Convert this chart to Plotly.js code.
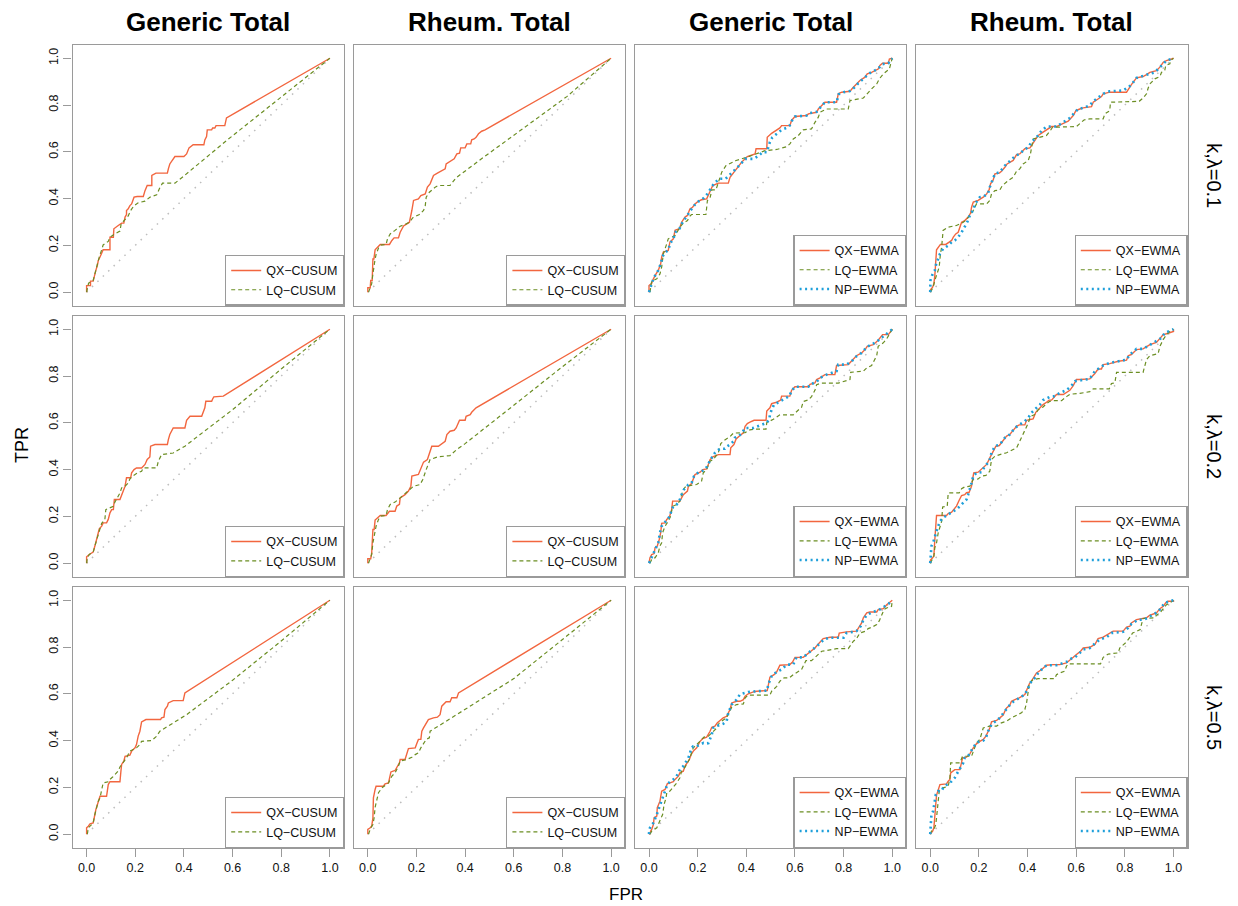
<!DOCTYPE html>
<html>
<head>
<meta charset="utf-8">
<script src="https://cdn.plot.ly/plotly-3.0.1.min.js"></script>
<style>html,body{margin:0;padding:0;background:#fff;}#chart{width:1238px;height:906px;}</style>
</head>
<body>
<div id="chart"></div>
<script>
// ---------- labels ----------
const colTitles = ['Generic Total', 'Rheum. Total', 'Generic Total', 'Rheum. Total'];
const rowLabels = ['k,λ=0.1', 'k,λ=0.2', 'k,λ=0.5'];
const tickVals = [0, 0.2, 0.4, 0.6, 0.8, 1.0];
const tickLabels = ['0.0', '0.2', '0.4', '0.6', '0.8', '1.0'];
const cusumNames = ['QX−CUSUM', 'LQ−CUSUM'];
const ewmaNames = ['QX−EWMA', 'LQ−EWMA', 'NP−EWMA'];
const xLabel = 'FPR';
const yLabel = 'TPR';
const diagonal = [[0, 0], [1, 1]];

// ---------- data: [FPR, TPR] points ----------
// k,λ = 0.1
const cusum_gen_k01_qx = [[0,0],[0,.028],[.016,.028],[.016,.047],[.027,.047],[.033,.078],[.038,.093],[.044,.114],[.048,.135],[.055,.150],[.062,.164],[.068,.181],[.096,.181],[.096,.235],[.110,.235],[.112,.271],[.130,.285],[.144,.295],[.153,.295],[.158,.321],[.164,.332],[.164,.349],[.171,.356],[.178,.370],[.185,.377],[.195,.406],[.208,.409],[.233,.409],[.240,.434],[.249,.456],[.268,.456],[.268,.499],[.285,.509],[.332,.509],[.336,.527],[.342,.548],[.363,.580],[.400,.580],[.411,.591],[.421,.617],[.438,.630],[.482,.630],[.486,.651],[.493,.665],[.496,.694],[.514,.694],[.518,.702],[.527,.702],[.532,.712],[.568,.712],[.575,.745],[1,1]];
const cusum_gen_k01_lq = [[0,0],[.003,.021],[.008,.038],[.027,.050],[.032,.071],[.038,.100],[.044,.124],[.052,.150],[.062,.181],[.068,.202],[.089,.217],[.096,.235],[.116,.249],[.137,.261],[.142,.292],[.158,.309],[.171,.326],[.181,.349],[.195,.370],[.212,.382],[.240,.389],[.260,.406],[.288,.416],[.299,.442],[.312,.466],[.363,.466],[.397,.494],[.575,.648],[.781,.819],[1,1]];
const cusum_rh_k01_qx = [[0,0],[0,.019],[.010,.019],[.012,.050],[.018,.050],[.021,.142],[.025,.142],[.030,.181],[.051,.204],[.089,.204],[.099,.221],[.108,.232],[.126,.232],[.133,.256],[.147,.283],[.160,.292],[.171,.299],[.181,.349],[.188,.392],[.208,.399],[.218,.413],[.236,.420],[.245,.449],[.256,.463],[.270,.499],[.286,.509],[.318,.527],[.322,.548],[.338,.560],[.355,.570],[.366,.591],[.377,.594],[.382,.617],[.400,.617],[.407,.634],[.423,.634],[.427,.651],[.437,.655],[.445,.662],[.455,.677],[.468,.688],[.482,.694],[1,1]];
const cusum_rh_k01_lq = [[.003,0],[.007,.014],[.016,.036],[.021,.078],[.023,.100],[.029,.135],[.034,.161],[.044,.189],[.053,.201],[.075,.204],[.081,.228],[.092,.249],[.112,.264],[.133,.282],[.153,.289],[.171,.299],[.185,.318],[.212,.332],[.229,.349],[.236,.368],[.240,.406],[.253,.427],[.277,.449],[.290,.456],[.338,.456],[.363,.489],[.462,.566],[.612,.679],[.818,.836],[1,1]];
const ewma_gen_k01_qx = [[0,0],[0,.028],[.011,.038],[.018,.057],[.029,.078],[.038,.093],[.048,.121],[.052,.150],[.059,.171],[.079,.178],[.086,.214],[.100,.228],[.107,.264],[.125,.271],[.134,.299],[.148,.321],[.158,.328],[.168,.356],[.179,.363],[.189,.377],[.203,.389],[.216,.395],[.237,.399],[.251,.427],[.262,.456],[.285,.466],[.326,.466],[.333,.491],[.353,.520],[.367,.541],[.381,.556],[.395,.570],[.404,.580],[.436,.591],[.440,.613],[.484,.613],[.486,.662],[.504,.679],[.518,.688],[.525,.694],[.538,.702],[.545,.712],[.579,.712],[.586,.734],[.600,.751],[.648,.755],[.655,.762],[.689,.769],[.696,.783],[.710,.798],[.723,.812],[.771,.812],[.778,.848],[.792,.855],[.826,.859],[.840,.876],[.853,.890],[.867,.905],[.888,.919],[.897,.933],[.915,.940],[.942,.954],[.949,.969],[.960,.979],[.984,.979],[.988,.997],[1,1]];
const ewma_gen_k01_lq = [[.004,0],[.007,.028],[.011,.047],[.032,.057],[.045,.078],[.052,.107],[.059,.164],[.073,.207],[.079,.228],[.107,.242],[.114,.256],[.127,.278],[.141,.295],[.158,.306],[.166,.323],[.175,.332],[.234,.332],[.240,.392],[.251,.403],[.258,.437],[.275,.437],[.289,.484],[.299,.513],[.316,.541],[.333,.551],[.358,.563],[.381,.570],[.395,.574],[.422,.584],[.477,.605],[.525,.610],[.566,.622],[.579,.634],[.593,.655],[.614,.670],[.634,.694],[.668,.698],[.682,.726],[.696,.748],[.703,.769],[.730,.783],[.819,.783],[.826,.819],[.881,.830],[.897,.850],[.915,.869],[.936,.890],[.947,.912],[.963,.933],[.988,.954],[.997,.990],[1,1]];
const ewma_gen_k01_np = [[0,0],[.004,.014],[.011,.040],[.018,.057],[.029,.078],[.038,.093],[.048,.121],[.055,.150],[.062,.165],[.079,.180],[.088,.210],[.100,.228],[.110,.258],[.125,.271],[.136,.295],[.148,.315],[.160,.330],[.170,.350],[.180,.363],[.192,.378],[.205,.389],[.220,.397],[.240,.420],[.252,.440],[.268,.466],[.290,.485],[.315,.485],[.330,.500],[.360,.530],[.375,.545],[.395,.570],[.430,.570],[.452,.584],[.465,.598],[.484,.598],[.490,.620],[.497,.642],[.507,.662],[.525,.676],[.545,.694],[.565,.702],[.578,.712],[.588,.734],[.600,.751],[.648,.755],[.660,.765],[.689,.771],[.700,.785],[.723,.812],[.771,.812],[.780,.846],[.800,.855],[.826,.860],[.845,.876],[.860,.893],[.888,.919],[.905,.935],[.940,.954],[.960,.975],[.984,.979],[1,1]];
const ewma_rh_k01_qx = [[0,0],[.001,.010],[.010,.021],[.015,.036],[.019,.071],[.023,.142],[.026,.181],[.042,.204],[.064,.204],[.078,.214],[.088,.221],[.095,.235],[.105,.249],[.115,.256],[.119,.271],[.129,.299],[.142,.306],[.156,.321],[.166,.338],[.170,.363],[.177,.385],[.197,.392],[.218,.406],[.232,.420],[.242,.437],[.248,.463],[.259,.480],[.266,.506],[.284,.509],[.293,.517],[.307,.534],[.316,.548],[.341,.563],[.355,.588],[.368,.591],[.389,.613],[.410,.617],[.421,.634],[.437,.662],[.444,.670],[.464,.684],[.478,.694],[.499,.708],[.519,.708],[.547,.722],[.567,.731],[.588,.755],[.599,.776],[.615,.783],[.629,.788],[.663,.793],[.670,.812],[.690,.826],[.704,.836],[.711,.848],[.738,.855],[.807,.855],[.818,.876],[.827,.887],[.848,.916],[.875,.922],[.889,.930],[.903,.940],[.930,.947],[.944,.962],[.958,.983],[.971,.990],[.992,.997],[1,1]];
const ewma_rh_k01_lq = [[.001,0],[.012,.021],[.019,.050],[.026,.071],[.037,.107],[.042,.164],[.047,.192],[.053,.264],[.074,.278],[.108,.285],[.136,.299],[.152,.313],[.163,.328],[.177,.349],[.190,.377],[.232,.377],[.245,.392],[.252,.420],[.266,.434],[.286,.437],[.297,.456],[.307,.466],[.321,.477],[.341,.491],[.355,.517],[.368,.527],[.382,.548],[.403,.563],[.412,.591],[.423,.655],[.444,.662],[.478,.670],[.492,.688],[.503,.705],[.601,.708],[.618,.722],[.632,.736],[.656,.741],[.711,.741],[.718,.762],[.738,.776],[.741,.812],[.859,.816],[.875,.830],[.889,.848],[.896,.873],[.903,.890],[.923,.912],[.944,.922],[.951,.940],[.964,.947],[.968,.969],[.985,.976],[.988,.990],[1,1]];
const ewma_rh_k01_np = [[0,0],[.001,.050],[.010,.078],[.019,.093],[.026,.128],[.033,.142],[.040,.164],[.053,.185],[.074,.199],[.088,.214],[.101,.221],[.115,.235],[.129,.256],[.142,.278],[.152,.299],[.163,.328],[.177,.352],[.184,.377],[.190,.387],[.204,.406],[.221,.409],[.238,.423],[.245,.449],[.252,.470],[.266,.506],[.286,.513],[.307,.541],[.327,.560],[.352,.584],[.368,.591],[.382,.605],[.403,.620],[.416,.641],[.430,.655],[.444,.670],[.458,.691],[.478,.708],[.519,.708],[.547,.726],[.575,.745],[.595,.769],[.608,.783],[.629,.788],[.656,.798],[.670,.816],[.690,.833],[.711,.848],[.738,.859],[.793,.862],[.814,.876],[.827,.887],[.848,.916],[.889,.930],[.923,.940],[.937,.954],[.958,.979],[.971,.990],[1,1]];

// k,λ = 0.2
const cusum_gen_k02_qx = [[0,0],[0,.027],[.011,.037],[.021,.044],[.027,.047],[.034,.073],[.038,.094],[.044,.113],[.048,.130],[.052,.147],[.062,.158],[.068,.172],[.082,.172],[.089,.187],[.096,.215],[.103,.229],[.110,.229],[.114,.272],[.137,.272],[.144,.293],[.153,.315],[.158,.329],[.164,.365],[.181,.365],[.185,.386],[.195,.400],[.205,.407],[.226,.407],[.240,.422],[.249,.443],[.260,.454],[.263,.500],[.281,.507],[.332,.507],[.336,.528],[.342,.550],[.356,.578],[.404,.578],[.411,.611],[.425,.628],[.473,.628],[.479,.650],[.486,.664],[.490,.692],[.514,.692],[.518,.702],[.523,.711],[.562,.714],[1,1]];
const cusum_gen_k02_lq = [[0,0],[.003,.022],[.011,.037],[.027,.047],[.034,.073],[.041,.101],[.048,.123],[.055,.147],[.062,.170],[.075,.187],[.079,.229],[.096,.236],[.110,.243],[.116,.260],[.123,.272],[.137,.300],[.144,.322],[.158,.329],[.171,.343],[.178,.360],[.189,.372],[.205,.383],[.226,.393],[.233,.407],[.288,.407],[.295,.436],[.308,.464],[.356,.471],[.404,.500],[.600,.656],[.800,.830],[1,1]];
const cusum_rh_k02_qx = [[0,0],[0,.019],[.012,.019],[.016,.044],[.021,.144],[.026,.144],[.030,.184],[.051,.204],[.075,.204],[.089,.222],[.112,.222],[.119,.244],[.130,.251],[.133,.279],[.153,.293],[.167,.308],[.177,.329],[.181,.372],[.208,.379],[.215,.400],[.222,.417],[.229,.432],[.245,.443],[.253,.472],[.263,.500],[.290,.500],[.318,.521],[.325,.550],[.338,.564],[.355,.568],[.363,.578],[.377,.611],[.400,.611],[.404,.628],[.421,.635],[.427,.645],[.437,.657],[.445,.664],[1,1]];
const cusum_rh_k02_lq = [[.003,0],[.010,.016],[.016,.037],[.021,.087],[.026,.123],[.034,.158],[.044,.187],[.053,.201],[.075,.204],[.081,.229],[.092,.251],[.112,.261],[.133,.279],[.144,.289],[.160,.300],[.174,.315],[.188,.329],[.215,.336],[.226,.358],[.240,.400],[.249,.422],[.256,.443],[.286,.454],[.338,.460],[.366,.486],[.400,.511],[.600,.675],[.800,.840],[1,1]];
const ewma_gen_k02_qx = [[0,0],[.004,.023],[.011,.037],[.021,.041],[.025,.066],[.034,.073],[.042,.101],[.048,.130],[.052,.170],[.066,.172],[.073,.187],[.084,.198],[.093,.229],[.097,.265],[.127,.265],[.134,.279],[.141,.293],[.158,.308],[.162,.329],[.175,.340],[.182,.365],[.189,.379],[.210,.389],[.221,.400],[.237,.403],[.251,.443],[.262,.454],[.271,.457],[.285,.464],[.333,.464],[.336,.493],[.349,.507],[.358,.531],[.374,.546],[.388,.557],[.395,.585],[.404,.597],[.415,.603],[.432,.611],[.481,.611],[.484,.650],[.497,.664],[.504,.682],[.525,.688],[.541,.697],[.545,.714],[.579,.714],[.586,.739],[.600,.754],[.655,.754],[.662,.764],[.682,.771],[.689,.785],[.703,.792],[.723,.806],[.764,.806],[.771,.845],[.819,.849],[.833,.863],[.847,.877],[.853,.887],[.874,.899],[.888,.913],[.897,.927],[.922,.934],[.942,.953],[.949,.963],[.960,.977],[.984,.977],[1,1]];
const ewma_gen_k02_lq = [[.004,0],[.011,.016],[.025,.023],[.038,.044],[.045,.073],[.052,.087],[.056,.130],[.066,.158],[.079,.179],[.089,.201],[.093,.222],[.097,.243],[.114,.251],[.127,.265],[.134,.293],[.141,.315],[.152,.329],[.168,.332],[.196,.336],[.216,.351],[.223,.386],[.237,.400],[.244,.422],[.251,.436],[.264,.443],[.285,.472],[.295,.511],[.312,.527],[.333,.541],[.347,.556],[.395,.558],[.415,.570],[.436,.573],[.481,.573],[.484,.601],[.511,.615],[.538,.634],[.593,.634],[.614,.655],[.627,.666],[.634,.691],[.655,.698],[.668,.712],[.682,.739],[.689,.763],[.708,.770],[.778,.770],[.799,.777],[.826,.785],[.829,.816],[.881,.821],[.895,.835],[.915,.845],[.936,.887],[.942,.927],[.963,.942],[.977,.959],[1,1]];
const ewma_gen_k02_np = [[0,0],[.004,.009],[.011,.030],[.025,.056],[.038,.087],[.045,.130],[.052,.158],[.073,.184],[.086,.201],[.093,.229],[.100,.243],[.114,.251],[.127,.272],[.134,.293],[.144,.315],[.162,.336],[.175,.343],[.185,.372],[.196,.383],[.216,.393],[.230,.400],[.244,.422],[.251,.443],[.264,.457],[.271,.472],[.278,.479],[.292,.489],[.312,.489],[.322,.500],[.333,.507],[.347,.521],[.353,.536],[.367,.543],[.381,.554],[.395,.578],[.429,.578],[.449,.585],[.470,.593],[.484,.600],[.495,.617],[.497,.635],[.504,.656],[.514,.678],[.532,.688],[.552,.699],[.577,.714],[.586,.736],[.600,.754],[.655,.754],[.662,.764],[.689,.775],[.703,.792],[.730,.806],[.771,.821],[.778,.849],[.812,.849],[.833,.863],[.853,.885],[.874,.899],[.897,.925],[.935,.946],[.963,.970],[1,1]];
const ewma_rh_k02_qx = [[0,0],[.001,.013],[.010,.023],[.015,.030],[.019,.101],[.023,.165],[.026,.204],[.067,.204],[.074,.212],[.088,.218],[.095,.229],[.108,.244],[.119,.269],[.129,.289],[.142,.293],[.149,.301],[.160,.303],[.166,.322],[.170,.329],[.174,.358],[.179,.386],[.197,.389],[.218,.407],[.232,.422],[.245,.450],[.252,.464],[.270,.500],[.284,.503],[.307,.536],[.314,.543],[.327,.550],[.355,.585],[.366,.591],[.389,.591],[.396,.611],[.423,.617],[.434,.645],[.451,.664],[.464,.678],[.478,.688],[.489,.697],[.499,.697],[.519,.721],[.547,.721],[.560,.731],[.574,.739],[.588,.759],[.601,.785],[.615,.785],[.656,.788],[.677,.811],[.690,.830],[.704,.830],[.711,.849],[.738,.853],[.759,.859],[.773,.863],[.807,.868],[.814,.887],[.827,.892],[.848,.913],[.875,.916],[.892,.927],[.903,.934],[.930,.944],[.944,.963],[.958,.977],[.971,.981],[.985,.987],[1,.991],[1,1]];
const ewma_rh_k02_lq = [[.001,0],[.005,.009],[.015,.030],[.019,.066],[.026,.087],[.033,.130],[.040,.158],[.047,.179],[.051,.240],[.070,.243],[.074,.300],[.119,.300],[.129,.318],[.142,.326],[.163,.329],[.170,.346],[.177,.358],[.197,.360],[.211,.372],[.229,.375],[.245,.393],[.252,.443],[.266,.457],[.286,.464],[.314,.472],[.341,.486],[.355,.493],[.368,.521],[.382,.550],[.389,.564],[.403,.599],[.412,.627],[.430,.635],[.444,.656],[.464,.668],[.478,.682],[.492,.692],[.505,.695],[.540,.695],[.560,.712],[.574,.722],[.615,.726],[.656,.733],[.670,.745],[.736,.745],[.745,.768],[.759,.771],[.766,.816],[.875,.816],[.889,.870],[.903,.887],[.937,.896],[.944,.927],[.958,.956],[.971,.977],[.985,.991],[1,1]];
const ewma_rh_k02_np = [[0,0],[.001,.030],[.005,.073],[.012,.087],[.019,.115],[.026,.137],[.033,.158],[.040,.179],[.053,.194],[.067,.204],[.081,.215],[.095,.222],[.108,.229],[.122,.244],[.136,.258],[.149,.272],[.156,.293],[.163,.315],[.170,.343],[.177,.372],[.190,.386],[.211,.389],[.225,.415],[.238,.429],[.245,.443],[.252,.472],[.266,.500],[.286,.507],[.307,.536],[.327,.550],[.348,.578],[.368,.593],[.389,.607],[.403,.621],[.416,.643],[.430,.657],[.451,.678],[.464,.697],[.492,.711],[.512,.714],[.533,.728],[.560,.739],[.581,.759],[.595,.778],[.629,.785],[.656,.788],[.677,.821],[.697,.835],[.711,.845],[.738,.856],[.773,.863],[.807,.870],[.821,.892],[.848,.916],[.875,.916],[.903,.934],[.930,.949],[.951,.963],[.964,.984],[1,1]];

// k,λ = 0.5
const cusum_gen_k05_qx = [[0,0],[0,.027],[.007,.034],[.014,.044],[.027,.048],[.030,.070],[.034,.084],[.038,.105],[.044,.127],[.048,.141],[.055,.162],[.082,.162],[.089,.212],[.096,.224],[.137,.224],[.141,.269],[.144,.298],[.153,.312],[.158,.333],[.178,.338],[.185,.355],[.199,.369],[.205,.383],[.212,.419],[.219,.440],[.226,.480],[.244,.490],[.304,.490],[.308,.497],[.318,.500],[.322,.533],[.332,.547],[.336,.561],[.356,.571],[.397,.571],[.404,.604],[1,1]];
const cusum_gen_k05_lq = [[.003,0],[.007,.027],[.021,.041],[.027,.048],[.034,.084],[.041,.120],[.048,.141],[.055,.155],[.062,.198],[.068,.219],[.089,.224],[.096,.234],[.107,.244],[.116,.256],[.130,.270],[.137,.287],[.151,.305],[.164,.326],[.178,.355],[.192,.362],[.205,.369],[.219,.383],[.226,.397],[.267,.400],[.288,.419],[.301,.440],[.411,.511],[.600,.658],[.800,.826],[1,1]];
const cusum_rh_k05_qx = [[0,0],[0,.020],[.010,.027],[.016,.034],[.021,.070],[.023,.155],[.030,.191],[.034,.205],[.064,.205],[.071,.215],[.085,.219],[.092,.255],[.095,.266],[.112,.272],[.119,.283],[.130,.305],[.133,.319],[.153,.319],[.167,.366],[.195,.369],[.201,.386],[.208,.405],[.218,.405],[.222,.440],[.229,.454],[.236,.469],[.249,.490],[.270,.497],[.286,.500],[.297,.511],[.304,.547],[.322,.566],[.338,.566],[.345,.583],[.366,.583],[.373,.604],[1,1]];
const cusum_rh_k05_lq = [[.003,0],[.012,.027],[.021,.041],[.026,.070],[.030,.115],[.037,.141],[.044,.177],[.058,.198],[.075,.212],[.085,.219],[.099,.248],[.112,.262],[.126,.291],[.133,.312],[.160,.319],[.181,.329],[.195,.340],[.208,.348],[.218,.369],[.229,.386],[.240,.405],[.253,.412],[.256,.440],[.312,.476],[.600,.665],[.800,.832],[1,1]];
const ewma_gen_k05_qx = [[0,0],[.004,.001],[.007,.013],[.011,.020],[.018,.041],[.021,.070],[.032,.077],[.034,.113],[.045,.141],[.052,.184],[.066,.191],[.073,.212],[.075,.215],[.086,.219],[.100,.224],[.107,.234],[.121,.248],[.127,.262],[.141,.269],[.148,.291],[.158,.305],[.166,.319],[.173,.340],[.182,.355],[.196,.369],[.210,.397],[.221,.409],[.237,.415],[.251,.440],[.258,.457],[.271,.462],[.281,.476],[.292,.486],[.305,.497],[.319,.504],[.326,.519],[.333,.533],[.340,.561],[.360,.568],[.374,.568],[.388,.575],[.395,.590],[.408,.600],[.429,.608],[.442,.611],[.486,.614],[.490,.640],[.497,.671],[.514,.682],[.525,.694],[.538,.722],[.579,.725],[.590,.736],[.600,.756],[.634,.756],[.648,.768],[.655,.775],[.668,.782],[.682,.796],[.696,.813],[.716,.836],[.744,.842],[.778,.842],[.782,.860],[.812,.865],[.853,.868],[.867,.889],[.874,.903],[.881,.925],[.895,.946],[.908,.950],[.936,.950],[.942,.960],[.963,.964],[.977,.981],[1,1]];
const ewma_gen_k05_lq = [[.004,0],[.011,.013],[.032,.027],[.038,.041],[.045,.056],[.056,.084],[.062,.127],[.070,.155],[.073,.177],[.086,.184],[.103,.205],[.114,.219],[.127,.241],[.134,.269],[.148,.286],[.158,.305],[.169,.326],[.175,.348],[.182,.369],[.196,.383],[.210,.397],[.221,.409],[.226,.415],[.244,.419],[.258,.433],[.267,.440],[.279,.454],[.289,.476],[.305,.486],[.319,.497],[.326,.514],[.333,.526],[.340,.543],[.360,.554],[.388,.557],[.395,.583],[.408,.594],[.497,.594],[.504,.611],[.525,.632],[.538,.654],[.555,.668],[.577,.668],[.593,.682],[.614,.694],[.627,.704],[.637,.725],[.645,.742],[.668,.742],[.682,.756],[.696,.768],[.710,.782],[.730,.785],[.771,.793],[.819,.793],[.829,.810],[.840,.825],[.853,.836],[.867,.860],[.888,.867],[.901,.879],[.915,.884],[.936,.896],[.947,.913],[.956,.932],[.966,.960],[.977,.967],[.997,.974],[1,1]];
const ewma_gen_k05_np = [[0,0],[.001,.020],[.007,.034],[.018,.048],[.032,.084],[.043,.113],[.052,.144],[.066,.184],[.075,.212],[.086,.224],[.100,.234],[.110,.241],[.121,.262],[.127,.276],[.141,.291],[.155,.312],[.162,.326],[.175,.369],[.182,.376],[.196,.376],[.210,.383],[.224,.390],[.230,.387],[.244,.389],[.258,.426],[.264,.454],[.278,.462],[.292,.469],[.305,.472],[.319,.483],[.326,.519],[.340,.554],[.360,.575],[.374,.598],[.395,.603],[.408,.608],[.442,.611],[.486,.614],[.490,.640],[.504,.675],[.525,.694],[.545,.704],[.566,.725],[.593,.725],[.606,.756],[.634,.756],[.655,.775],[.682,.796],[.700,.813],[.720,.833],[.744,.840],[.800,.840],[.812,.860],[.853,.868],[.870,.889],[.881,.915],[.895,.937],[.920,.950],[.942,.957],[.963,.970],[.985,.985],[1,1]];
const ewma_rh_k05_qx = [[0,0],[.001,.001],[.010,.013],[.015,.027],[.019,.070],[.023,.127],[.026,.167],[.040,.212],[.067,.215],[.074,.226],[.081,.234],[.084,.262],[.101,.276],[.122,.276],[.129,.305],[.133,.326],[.149,.329],[.163,.343],[.177,.369],[.190,.386],[.204,.397],[.218,.405],[.229,.419],[.238,.440],[.245,.454],[.252,.480],[.273,.486],[.286,.497],[.300,.509],[.307,.526],[.314,.540],[.327,.551],[.334,.568],[.348,.575],[.366,.583],[.389,.597],[.396,.614],[.407,.642],[.416,.654],[.437,.689],[.458,.704],[.478,.722],[.505,.725],[.533,.725],[.560,.732],[.574,.746],[.588,.756],[.601,.768],[.618,.782],[.629,.796],[.656,.799],[.677,.811],[.690,.836],[.711,.842],[.732,.856],[.752,.868],[.793,.868],[.807,.885],[.821,.889],[.827,.903],[.848,.917],[.875,.922],[.889,.925],[.903,.936],[.930,.946],[.944,.964],[.958,.974],[.968,.989],[.978,.996],[1,.996],[1,1]];
const ewma_rh_k05_lq = [[.001,0],[.005,.013],[.015,.020],[.023,.041],[.026,.070],[.029,.098],[.033,.155],[.037,.184],[.053,.198],[.074,.205],[.081,.241],[.084,.305],[.122,.305],[.129,.326],[.133,.333],[.170,.333],[.177,.355],[.184,.369],[.190,.390],[.204,.405],[.211,.433],[.218,.454],[.245,.462],[.273,.462],[.293,.476],[.314,.483],[.334,.497],[.355,.509],[.375,.519],[.389,.533],[.396,.561],[.403,.611],[.407,.647],[.423,.661],[.444,.665],[.512,.665],[.519,.682],[.533,.689],[.553,.697],[.560,.718],[.567,.728],[.700,.728],[.711,.756],[.732,.770],[.773,.775],[.779,.796],[.793,.810],[.807,.822],[.821,.842],[.832,.860],[.849,.867],[.863,.875],[.869,.899],[.875,.922],[.923,.925],[.930,.936],[.944,.946],[.958,.964],[.971,.981],[.985,.988],[1,1]];
const ewma_rh_k05_np = [[0,0],[.001,.041],[.005,.084],[.012,.098],[.019,.141],[.023,.169],[.033,.184],[.047,.184],[.053,.198],[.067,.212],[.078,.219],[.088,.226],[.101,.241],[.108,.255],[.115,.269],[.129,.291],[.136,.305],[.142,.326],[.156,.333],[.163,.348],[.177,.369],[.190,.390],[.204,.397],[.218,.400],[.229,.412],[.238,.440],[.252,.469],[.270,.483],[.286,.497],[.307,.526],[.321,.547],[.334,.561],[.355,.575],[.375,.590],[.389,.597],[.403,.625],[.416,.654],[.430,.668],[.444,.689],[.458,.704],[.478,.722],[.519,.722],[.547,.732],[.567,.739],[.581,.751],[.595,.756],[.608,.768],[.629,.789],[.656,.796],[.684,.818],[.697,.832],[.725,.842],[.745,.860],[.793,.865],[.814,.882],[.827,.899],[.855,.917],[.875,.917],[.896,.925],[.910,.936],[.923,.942],[.944,.960],[.964,.989],[1,1]];

// panel grid: rows = k,λ ; columns = CUSUM generic, CUSUM rheum, EWMA generic, EWMA rheum
const panelSeries = [
  [[cusum_gen_k01_qx, cusum_gen_k01_lq], [cusum_rh_k01_qx, cusum_rh_k01_lq], [ewma_gen_k01_qx, ewma_gen_k01_lq, ewma_gen_k01_np], [ewma_rh_k01_qx, ewma_rh_k01_lq, ewma_rh_k01_np]],
  [[cusum_gen_k02_qx, cusum_gen_k02_lq], [cusum_rh_k02_qx, cusum_rh_k02_lq], [ewma_gen_k02_qx, ewma_gen_k02_lq, ewma_gen_k02_np], [ewma_rh_k02_qx, ewma_rh_k02_lq, ewma_rh_k02_np]],
  [[cusum_gen_k05_qx, cusum_gen_k05_lq], [cusum_rh_k05_qx, cusum_rh_k05_lq], [ewma_gen_k05_qx, ewma_gen_k05_lq, ewma_gen_k05_np], [ewma_rh_k05_qx, ewma_rh_k05_lq, ewma_rh_k05_np]]
];
const panelNames = [cusumNames, cusumNames, ewmaNames, ewmaNames];

// ---------- styling / geometry ----------
const W = 1238, H = 906;
const FONT = 'Liberation Sans, Arial, Helvetica, sans-serif';
const seriesStyle = [
  {color: '#F2663F', dash: 'solid', width: 1.4},
  {color: '#6B8E23', dash: '4px,3px', width: 1.2},
  {color: '#1E9FDA', dash: '2px,3.5px', width: 2.6}
];
const boxColor = '#9a9a9a';
const colLeft = [72.5, 353.7, 634.9, 916.1];
const rowTop = [44.7, 315.7, 586.7];
const panelW = 271.5, panelH = 261;
const axRange = [-0.058, 1.058];

const traces = [];
const layout = {
  width: W, height: H, autosize: false,
  margin: {l: 0, r: 0, t: 0, b: 0},
  paper_bgcolor: '#ffffff', plot_bgcolor: '#ffffff',
  font: {family: FONT, color: '#000'},
  annotations: [],
  showlegend: true
};

for (let r = 0; r < 3; r++) {
  for (let c = 0; c < 4; c++) {
    const p = r * 4 + c;
    const s = p === 0 ? '' : String(p + 1);
    const xa = 'x' + s, ya = 'y' + s;
    const legId = 'legend' + s;
    const x0 = colLeft[c] / W, x1 = (colLeft[c] + panelW) / W;
    const y1 = 1 - rowTop[r] / H, y0 = 1 - (rowTop[r] + panelH) / H;

    layout['xaxis' + s] = {
      domain: [x0, x1], range: axRange, anchor: ya,
      showgrid: false, zeroline: false, showline: true, mirror: true,
      linecolor: boxColor, linewidth: 1.3,
      tickmode: 'array', tickvals: tickVals, ticktext: tickLabels,
      ticks: r === 2 ? 'outside' : '', ticklen: 8, tickwidth: 1.2, tickcolor: boxColor,
      showticklabels: r === 2, tickfont: {size: 12.5, color: '#111', family: FONT},
      fixedrange: true
    };
    layout['yaxis' + s] = {
      domain: [y0, y1], range: axRange, anchor: xa,
      showgrid: false, zeroline: false, showline: true, mirror: true,
      linecolor: boxColor, linewidth: 1.3,
      tickmode: 'array', tickvals: tickVals, ticktext: tickLabels,
      ticks: c === 0 ? 'outside' : '', ticklen: 8, tickwidth: 1.2, tickcolor: boxColor,
      showticklabels: c === 0, tickangle: -90, tickfont: {size: 12.5, color: '#111', family: FONT},
      fixedrange: true
    };

    // reference diagonal
    traces.push({
      type: 'scatter', mode: 'lines', xaxis: xa, yaxis: ya,
      x: diagonal.map(d => d[0]), y: diagonal.map(d => d[1]),
      line: {color: '#bdbdbd', width: 1.5, dash: '1.5px,6px'},
      showlegend: false, hoverinfo: 'skip'
    });

    const series = panelSeries[r][c];
    const names = panelNames[c];
    series.forEach((pts, k) => {
      const st = seriesStyle[k];
      traces.push({
        type: 'scatter', mode: 'lines', xaxis: xa, yaxis: ya,
        x: pts.map(d => d[0]), y: pts.map(d => d[1]),
        name: names[k], legend: legId, showlegend: true,
        line: {color: st.color, width: st.width, dash: st.dash}
      });
    });

    layout[legId] = {
      x: x1, y: y0, xanchor: 'right', yanchor: 'bottom',
      xref: 'paper', yref: 'paper',
      bgcolor: '#ffffff', bordercolor: boxColor, borderwidth: 1.2,
      font: {size: 12.5, color: '#111', family: FONT},
      itemwidth: 30, tracegroupgap: 0, traceorder: 'normal'
    };
  }
}

// column titles
colTitles.forEach((t, c) => {
  layout.annotations.push({
    text: '<b>' + t + '</b>', xref: 'paper', yref: 'paper',
    x: (colLeft[c] + panelW / 2) / W, y: 1 - 22 / H,
    xanchor: 'center', yanchor: 'middle', showarrow: false,
    font: {size: 26, color: '#000', family: FONT}
  });
});
// row strip labels
rowLabels.forEach((t, r) => {
  layout.annotations.push({
    text: t, xref: 'paper', yref: 'paper',
    x: 1214 / W, y: 1 - (rowTop[r] + panelH / 2) / H,
    xanchor: 'center', yanchor: 'middle', showarrow: false, textangle: 90,
    font: {size: 20, color: '#000', family: FONT}
  });
});
// axis labels
layout.annotations.push({
  text: yLabel, xref: 'paper', yref: 'paper', x: 22 / W, y: 1 - 445 / H,
  xanchor: 'center', yanchor: 'middle', showarrow: false, textangle: -90,
  font: {size: 18, color: '#000', family: FONT}
});
layout.annotations.push({
  text: xLabel, xref: 'paper', yref: 'paper', x: 626 / W, y: 1 - 894 / H,
  xanchor: 'center', yanchor: 'middle', showarrow: false,
  font: {size: 17, color: '#000', family: FONT}
});

Plotly.newPlot('chart', traces, layout, {displayModeBar: false, responsive: false});
</script>
</body>
</html>
